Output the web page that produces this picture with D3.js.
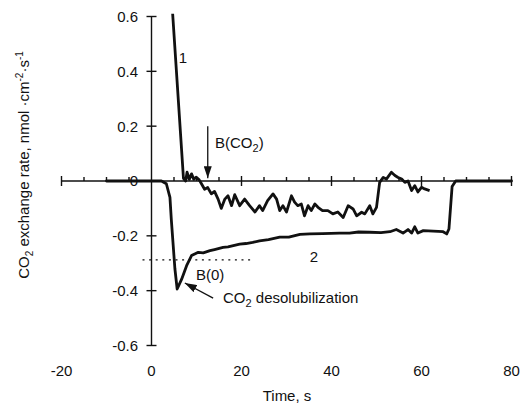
<!DOCTYPE html>
<html>
<head>
<meta charset="utf-8">
<script src="https://cdn.jsdelivr.net/npm/d3@7"></script>
<style>
  html, body { margin: 0; padding: 0; background: #fff; }
  svg { display: block; }
  text { font-family: "Liberation Sans", Arial, Helvetica, sans-serif; font-size: 15px; fill: #111; }
</style>
</head>
<body>
<div id="chart"></div>
<script>
// time (s), CO2 exchange rate (nmol cm-2 s-1)
const curve1 = [
  [4.7, 0.61], [7.1, 0.01], [7.6, 0.0], [7.9, 0.032], [8.4, 0.006], [8.9, 0.026], [9.4, 0.006],
  [9.9, 0.014], [10.6, 0.004], [11.1, -0.01], [11.8, -0.03], [12.5, -0.024], [13.3, -0.047],
  [14.0, -0.038], [14.8, -0.066], [15.5, -0.1], [16.3, -0.066], [17.0, -0.054], [17.8, -0.09],
  [18.5, -0.05], [19.6, -0.09], [20.7, -0.066], [21.8, -0.09], [23.0, -0.113], [24.0, -0.09],
  [24.7, -0.108], [25.8, -0.072], [27.0, -0.047], [27.8, -0.066], [28.5, -0.108], [29.2, -0.09],
  [30.0, -0.113], [31.1, -0.054], [31.8, -0.077], [32.5, -0.09], [33.3, -0.084], [34.0, -0.127],
  [34.8, -0.09], [35.5, -0.108], [36.3, -0.084], [37.0, -0.096], [38.0, -0.108], [39.2, -0.108],
  [40.3, -0.12], [41.4, -0.113], [42.6, -0.133], [43.7, -0.09], [44.8, -0.102], [45.6, -0.127],
  [46.7, -0.114], [47.4, -0.12], [48.5, -0.09], [49.2, -0.12], [50.0, -0.096], [50.7, -0.005],
  [51.5, 0.013], [52.2, 0.007], [53.3, 0.032], [54.1, 0.02], [54.8, 0.013], [55.6, 0.007],
  [56.3, -0.005], [57.0, 0.0], [57.8, -0.035], [58.5, -0.017], [59.2, -0.04], [60.0, -0.023],
  [60.7, -0.029], [61.8, -0.035]
];

const curve2 = [
  [-10, 0], [2.2, 0], [3.3, -0.01], [4.1, -0.06], [4.4, -0.14], [5.2, -0.32], [5.7, -0.394],
  [6.7, -0.358], [7.8, -0.309], [8.9, -0.272], [10.4, -0.26], [11.5, -0.262], [13.0, -0.254],
  [14.0, -0.25], [15.9, -0.242], [17.0, -0.24], [19.6, -0.23], [21.0, -0.228], [22.5, -0.224],
  [24.0, -0.218], [26.0, -0.214], [28.5, -0.205], [30.5, -0.205], [33.0, -0.195], [35.2, -0.193],
  [38.0, -0.192], [41.8, -0.19], [44.0, -0.19], [46.0, -0.186], [48.5, -0.187], [51.0, -0.188],
  [53.0, -0.185], [54.4, -0.177], [55.9, -0.19], [57.0, -0.177], [57.8, -0.19], [58.5, -0.167],
  [59.2, -0.19], [60.4, -0.181], [62.6, -0.183], [64.8, -0.185], [65.6, -0.193], [66.1, -0.175],
  [66.8, -0.02], [67.6, 0], [80, 0]
];

const baselineB0 = [[-2, -0.288], [22, -0.288]];

const xMajorTicks = [-20, 20, 40, 60, 80];
const xMinorTicks = [-15, -10, -5, 5, 10, 15, 25, 30, 35, 45, 50, 55, 65, 70, 75];
const xTickLabels = [-20, 0, 20, 40, 60, 80];
const yTicks = [0.6, 0.4, 0.2, -0.2, -0.4, -0.6];
const yTickLabels = [0.6, 0.4, 0.2, 0, -0.2, -0.4, -0.6];

const width = 521;
const height = 405;

const svg = d3.select('#chart').append('svg').attr('width', width).attr('height', height);

const x = d3.scaleLinear().domain([-20, 80]).range([61.5, 511.5]);
const y = d3.scaleLinear().domain([-0.6, 0.6]).range([345.5, 16.5]);

const axes = svg.append('g').attr('stroke', '#111').attr('stroke-width', 1.4).attr('fill', 'none');

// x axis through zero
axes.append('line').attr('x1', x(-20)).attr('x2', x(80)).attr('y1', y(0)).attr('y2', y(0));
axes.selectAll('line.xmaj').data(xMajorTicks).join('line')
  .attr('x1', (d) => x(d)).attr('x2', (d) => x(d))
  .attr('y1', y(0) - 5).attr('y2', y(0) + 5);
axes.selectAll('line.xmin').data(xMinorTicks).join('line')
  .attr('x1', (d) => x(d)).attr('x2', (d) => x(d))
  .attr('y1', y(0) - 4).attr('y2', y(0));

// y axis through zero
axes.append('line').attr('x1', x(0)).attr('x2', x(0)).attr('y1', y(0.6)).attr('y2', y(-0.6));
axes.selectAll('line.ytick').data(yTicks).join('line')
  .attr('x1', x(0) - 5).attr('x2', x(0) + 5)
  .attr('y1', (d) => y(d)).attr('y2', (d) => y(d));

// tick labels
svg.append('g').selectAll('text').data(yTickLabels).join('text')
  .attr('x', 138).attr('y', (d) => y(d)).attr('dy', '0.36em')
  .attr('text-anchor', 'end')
  .text((d) => d);

svg.append('g').selectAll('text').data(xTickLabels).join('text')
  .attr('x', (d) => x(d)).attr('y', 376)
  .attr('text-anchor', 'middle')
  .text((d) => d);

svg.append('text').attr('x', 287).attr('y', 401).attr('text-anchor', 'middle').text('Time, s');

const yTitle = svg.append('text')
  .attr('transform', 'translate(29,165) rotate(-90)')
  .attr('text-anchor', 'middle')
  .attr('font-size', 14);
yTitle.append('tspan').text('CO');
yTitle.append('tspan').attr('dy', 4).attr('font-size', 10).text('2');
yTitle.append('tspan').attr('dy', -4).text(' exchange rate, nmol ·cm');
yTitle.append('tspan').attr('dy', -6).attr('font-size', 10).text('-2');
yTitle.append('tspan').attr('dy', 6).text('·s');
yTitle.append('tspan').attr('dy', -6).attr('font-size', 10).text('-1');

// curves
const line = d3.line().x((d) => x(d[0])).y((d) => y(d[1]));

svg.append('path').datum(curve2)
  .attr('d', line).attr('fill', 'none').attr('stroke', '#111')
  .attr('stroke-width', 2.8).attr('stroke-linejoin', 'round').attr('stroke-linecap', 'round');

svg.append('path').datum(curve1)
  .attr('d', line).attr('fill', 'none').attr('stroke', '#111')
  .attr('stroke-width', 2.8).attr('stroke-linejoin', 'round').attr('stroke-linecap', 'butt');

svg.append('path').datum(baselineB0)
  .attr('d', line).attr('fill', 'none').attr('stroke', '#111')
  .attr('stroke-width', 1.3).attr('stroke-dasharray', '2 4.6');

// annotations
const defs = svg.append('defs');
defs.append('marker')
  .attr('id', 'head').attr('viewBox', '0 0 12 8').attr('refX', 12).attr('refY', 4)
  .attr('markerWidth', 12).attr('markerHeight', 8).attr('markerUnits', 'userSpaceOnUse')
  .attr('orient', 'auto')
  .append('path').attr('d', 'M0,0 L12,4 L0,8 Z').attr('fill', '#111');

svg.append('line')
  .attr('x1', x(12.5)).attr('x2', x(12.5)).attr('y1', y(0.2)).attr('y2', y(0.01))
  .attr('stroke', '#111').attr('stroke-width', 1.3).attr('marker-end', 'url(#head)');

svg.append('line')
  .attr('x1', x(13.7)).attr('y1', y(-0.427)).attr('x2', x(7.4)).attr('y2', y(-0.372))
  .attr('stroke', '#111').attr('stroke-width', 1.3).attr('marker-end', 'url(#head)');

svg.append('text').attr('x', 183).attr('y', 63).attr('text-anchor', 'middle').text('1');
svg.append('text').attr('x', 314).attr('y', 262).attr('text-anchor', 'middle').text('2');

const bco2 = svg.append('text').attr('x', 215).attr('y', 148);
bco2.append('tspan').text('B(CO');
bco2.append('tspan').attr('dy', 4).attr('font-size', 11).text('2');
bco2.append('tspan').attr('dy', -4).text(')');

svg.append('text').attr('x', 196).attr('y', 280).text('B(0)');

const deso = svg.append('text').attr('x', 223).attr('y', 303);
deso.append('tspan').text('CO');
deso.append('tspan').attr('dy', 4).attr('font-size', 11).text('2');
deso.append('tspan').attr('dy', -4).text(' desolubilization');
</script>
</body>
</html>
